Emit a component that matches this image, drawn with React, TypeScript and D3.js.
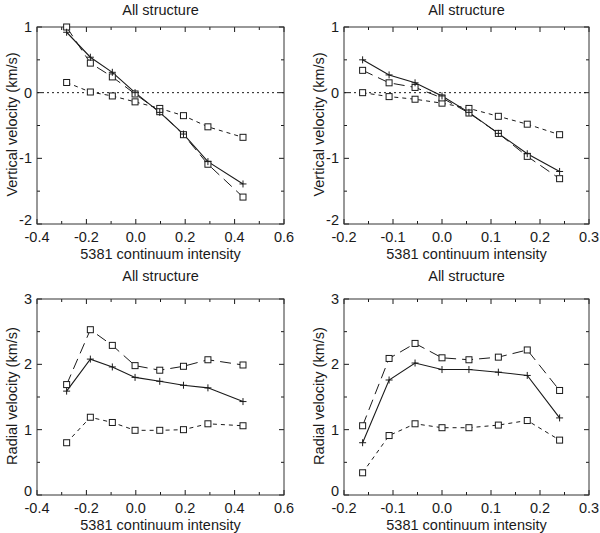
import * as d3 from 'd3'

// x positions (continuum intensity bins)
const xLeft = [-0.28, -0.184, -0.095, -0.003, 0.097, 0.193, 0.292, 0.434]
const xRight = [-0.162, -0.108, -0.055, 0.0, 0.055, 0.115, 0.174, 0.24]

// top row: vertical velocity
const tlSolid = [0.92, 0.54, 0.31, 0.0, -0.3, -0.63, -1.05, -1.39]
const tlLong = [1.0, 0.45, 0.24, -0.02, -0.29, -0.64, -1.09, -1.59]
const tlShort = [0.155, 0.01, -0.05, -0.14, -0.24, -0.35, -0.52, -0.68]

const trSolid = [0.5, 0.27, 0.15, -0.05, -0.3, -0.62, -0.93, -1.2]
const trLong = [0.34, 0.15, 0.08, -0.08, -0.31, -0.62, -0.97, -1.31]
const trShort = [0.0, -0.06, -0.1, -0.16, -0.24, -0.36, -0.48, -0.64]

// bottom row: radial velocity
const blSolid = [1.59, 2.08, 1.96, 1.8, 1.74, 1.68, 1.64, 1.43]
const blLong = [1.69, 2.53, 2.29, 1.98, 1.91, 1.97, 2.07, 1.99]
const blShort = [0.8, 1.19, 1.11, 0.99, 0.99, 1.0, 1.09, 1.06]

const brSolid = [0.8, 1.76, 2.02, 1.92, 1.92, 1.88, 1.83, 1.18]
const brLong = [1.06, 2.09, 2.32, 2.1, 2.07, 2.11, 2.22, 1.6]
const brShort = [0.34, 0.91, 1.09, 1.03, 1.03, 1.07, 1.14, 0.84]

const xTicksLeft = [-0.4, -0.2, 0.0, 0.2, 0.4, 0.6]
const xTicksRight = [-0.2, -0.1, 0.0, 0.1, 0.2, 0.3]

const FONT = 'Liberation Sans, Arial, Helvetica, sans-serif'
const FS = 14.5
const INK = '#1a1a1a'

interface PanelProps {
  x0: number; x1: number; y0: number; y1: number; titleY: number
  xDomain: [number, number]; yDomain: [number, number]
  xTicks: number[]; xMinorStep: number
  xs: number[]; solid: number[]; long: number[]; short: number[]
  yTitle: string; zeroLine: boolean
}

function Panel(p: PanelProps) {
  const xSc = d3.scaleLinear().domain(p.xDomain).range([p.x0, p.x1])
  const ySc = d3.scaleLinear().domain(p.yDomain).range([p.y1, p.y0])
  const yTicks = d3.range(p.yDomain[0], p.yDomain[1] + 0.001, 1)
  const yMinor = d3.range(p.yDomain[0] + 0.5, p.yDomain[1], 1)
  const xMinor = d3.range(p.xDomain[0], p.xDomain[1] + 1e-6, p.xMinorStep)
    .filter(v => !p.xTicks.some(t => Math.abs(t - v) < 1e-6))
  const line = d3.line<number>().x((_, i) => xSc(p.xs[i])).y(d => ySc(d))
  const fmt = (v: number) => v.toFixed(1)
  const cx = (p.x0 + p.x1) / 2, cy = (p.y0 + p.y1) / 2
  const MJ = 5, MN = 3

  const squares = (vals: number[], key: string) => vals.map((v, i) => (
    <rect key={key + i} x={xSc(p.xs[i]) - 3} y={ySc(v) - 3} width={6} height={6}
      fill="white" stroke={INK} strokeWidth={1} />
  ))

  return (
    <g>
      <text x={cx} y={p.titleY} textAnchor="middle" fontSize={FS} fontFamily={FONT} fill={INK}>All structure</text>
      {p.zeroLine && (
        <line x1={p.x0} x2={p.x1} y1={ySc(0)} y2={ySc(0)} stroke={INK} strokeWidth={1} strokeDasharray="2,3" />
      )}
      {/* ticks */}
      {p.xTicks.map(t => (
        <g key={'xt' + t}>
          <line x1={xSc(t)} x2={xSc(t)} y1={p.y1} y2={p.y1 - MJ} stroke={INK} />
          <line x1={xSc(t)} x2={xSc(t)} y1={p.y0} y2={p.y0 + MJ} stroke={INK} />
          <text x={xSc(t)} y={p.y1 + 18} textAnchor="middle" fontSize={FS} fontFamily={FONT} fill={INK}>{fmt(t)}</text>
        </g>
      ))}
      {xMinor.map(t => (
        <g key={'xm' + t}>
          <line x1={xSc(t)} x2={xSc(t)} y1={p.y1} y2={p.y1 - MN} stroke={INK} />
          <line x1={xSc(t)} x2={xSc(t)} y1={p.y0} y2={p.y0 + MN} stroke={INK} />
        </g>
      ))}
      {yTicks.map((t, i) => (
        <g key={'yt' + t}>
          <line x1={p.x0} x2={p.x0 + MJ} y1={ySc(t)} y2={ySc(t)} stroke={INK} />
          <line x1={p.x1} x2={p.x1 - MJ} y1={ySc(t)} y2={ySc(t)} stroke={INK} />
          <text x={p.x0 - 5} y={ySc(t) + (i === 0 ? 1 : 5)} textAnchor="end" fontSize={FS} fontFamily={FONT} fill={INK}>{t}</text>
        </g>
      ))}
      {yMinor.map(t => (
        <g key={'ym' + t}>
          <line x1={p.x0} x2={p.x0 + MN} y1={ySc(t)} y2={ySc(t)} stroke={INK} />
          <line x1={p.x1} x2={p.x1 - MN} y1={ySc(t)} y2={ySc(t)} stroke={INK} />
        </g>
      ))}
      <rect x={p.x0} y={p.y0} width={p.x1 - p.x0} height={p.y1 - p.y0} fill="none" stroke="#333" strokeWidth={1} />
      <text x={cx} y={p.y1 + 35} textAnchor="middle" fontSize={FS} fontFamily={FONT} fill={INK}>5381 continuum intensity</text>
      <text transform={`translate(${p.x0 - 20},${cy - 1}) rotate(-90)`} textAnchor="middle" fontSize={FS}
        fontFamily={FONT} fill={INK}>{p.yTitle}</text>

      {/* series */}
      <path d={line(p.short) ?? ''} fill="none" stroke={INK} strokeWidth={1} strokeDasharray="4,4" />
      <path d={line(p.long) ?? ''} fill="none" stroke={INK} strokeWidth={1} strokeDasharray="11,6" />
      <path d={line(p.solid) ?? ''} fill="none" stroke={INK} strokeWidth={1.1} />
      {squares(p.short, 's')}
      {squares(p.long, 'l')}
      {p.solid.map((v, i) => (
        <path key={'p' + i} d={`M${xSc(p.xs[i]) - 3.5},${ySc(v)}h7M${xSc(p.xs[i])},${ySc(v) - 3.5}v7`}
          stroke={INK} strokeWidth={1} />
      ))}
    </g>
  )
}

export default function App() {
  return (
    <svg width={600} height={533} style={{ position: 'absolute', left: 0, top: 0, background: 'white' }}>
      <Panel x0={37} x1={284} y0={27} y1={224} titleY={15} xDomain={[-0.4, 0.6]} yDomain={[-2, 1]}
        xTicks={xTicksLeft} xMinorStep={0.1} xs={xLeft} solid={tlSolid} long={tlLong} short={tlShort}
        yTitle="Vertical velocity (km/s)" zeroLine />
      <Panel x0={344} x1={589} y0={27} y1={224} titleY={15} xDomain={[-0.2, 0.3]} yDomain={[-2, 1]}
        xTicks={xTicksRight} xMinorStep={0.05} xs={xRight} solid={trSolid} long={trLong} short={trShort}
        yTitle="Vertical velocity (km/s)" zeroLine />
      <Panel x0={37} x1={284} y0={299} y1={495} titleY={281} xDomain={[-0.4, 0.6]} yDomain={[0, 3]}
        xTicks={xTicksLeft} xMinorStep={0.1} xs={xLeft} solid={blSolid} long={blLong} short={blShort}
        yTitle="Radial velocity (km/s)" zeroLine={false} />
      <Panel x0={344} x1={589} y0={299} y1={495} titleY={281} xDomain={[-0.2, 0.3]} yDomain={[0, 3]}
        xTicks={xTicksRight} xMinorStep={0.05} xs={xRight} solid={brSolid} long={brLong} short={brShort}
        yTitle="Radial velocity (km/s)" zeroLine={false} />
    </svg>
  )
}
